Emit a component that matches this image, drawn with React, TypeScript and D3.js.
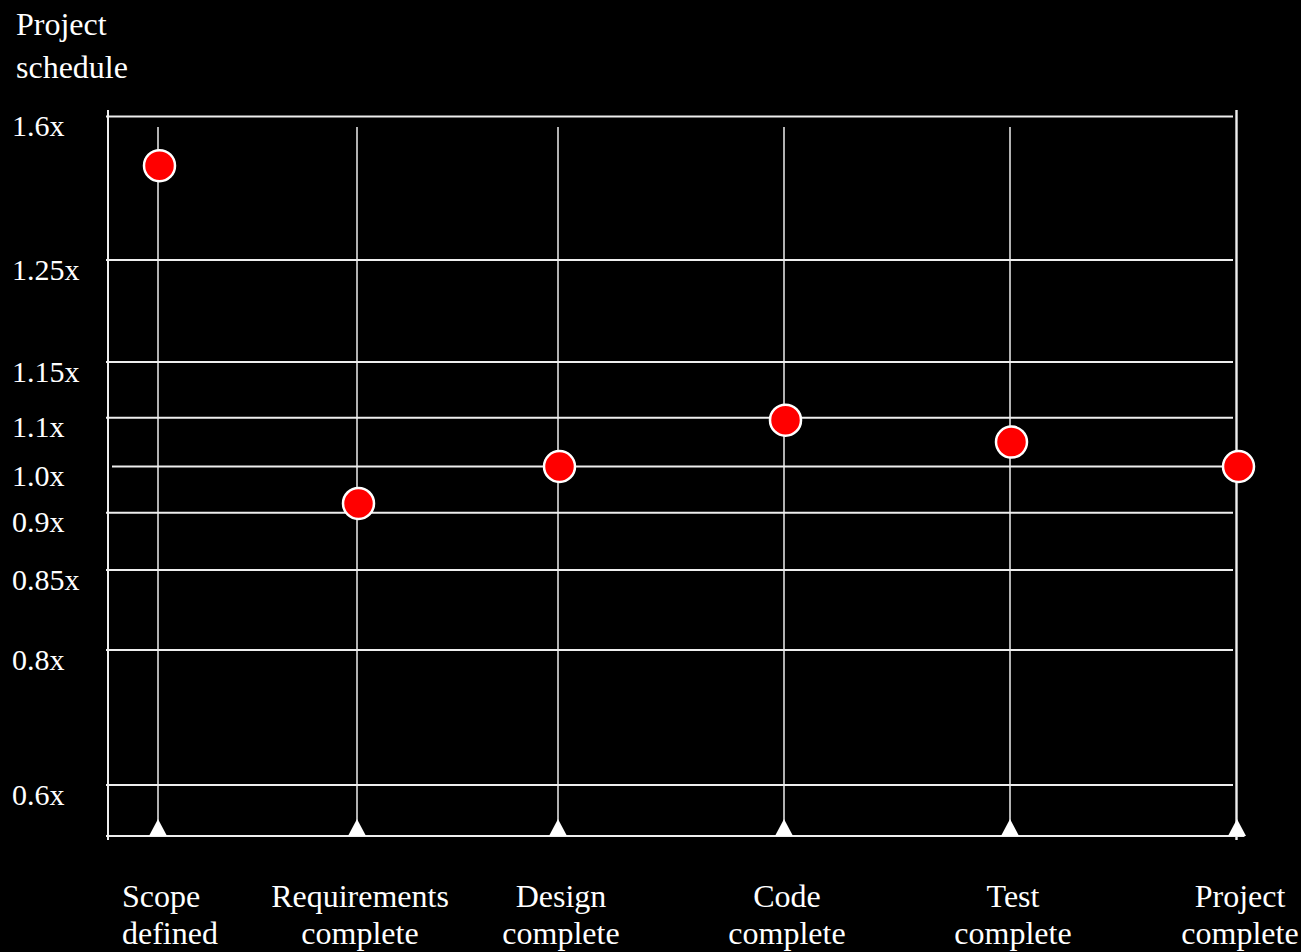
import React from "react";
import * as d3 from "d3";

// Project milestones along the bottom, each split into two label lines
const stages = [
  ["Scope", "defined"],
  ["Requirements", "complete"],
  ["Design", "complete"],
  ["Code", "complete"],
  ["Test", "complete"],
  ["Project", "complete"],
];

// Schedule multiplier estimated at each milestone
const scheduleValues = [1.48, 0.92, 1.0, 1.095, 1.05, 1.0];

// Y-axis reference multipliers and their labels
const tickValues = [1.6, 1.25, 1.15, 1.1, 1.0, 0.9, 0.85, 0.8, 0.6];
const tickLabels = ["1.6x", "1.25x", "1.15x", "1.1x", "1.0x", "0.9x", "0.85x", "0.8x", "0.6x"];

const W = 1301;
const H = 952;
const FONT = "'Liberation Serif', 'Times New Roman', serif";
const LINE = "#eeeeee";

export default function App() {
  // Non-uniform vertical axis: each reference multiplier has its own band
  const y = d3
    .scaleLinear()
    .domain([0.6, 0.8, 0.85, 0.9, 1.0, 1.1, 1.15, 1.25, 1.6])
    .range([785, 650, 570, 512.7, 466.5, 417.7, 362, 260, 116.5]);

  // Milestone spacing along the horizontal axis
  const x = d3
    .scaleLinear()
    .domain([0, 1, 2, 3, 4, 5])
    .range([158, 357, 558, 784, 1010, 1237]);

  const left = 108;
  const right = 1236.5;
  const bottom = 836;
  const axisTop = 110;
  const stageTop = 127;

  // Upward-pointing marker sitting on the baseline
  const triW = 18;
  const triH = 17;
  const tri = d3.line()([
    [-triW / 2, 0],
    [triW / 2, 0],
    [0, -triH],
  ]) + "Z";

  return (
    <svg
      width={W}
      height={H}
      style={{ position: "absolute", left: 0, top: 0, display: "block" }}
      fontFamily={FONT}
    >
      <rect x={0} y={0} width={W} height={H} fill="#000" />

      {/* axis title */}
      <text x={16} y={35} fill="#fff" fontSize={32}>Project</text>
      <text x={16} y={78} fill="#fff" fontSize={32}>schedule</text>

      {/* horizontal reference lines */}
      {tickValues.map((v, i) => (
        <line
          key={"h" + i}
          x1={v === 1.0 ? left + 4 : left - 2}
          x2={v === 1.0 ? right : right - 3.5}
          y1={y(v)}
          y2={y(v)}
          stroke={LINE}
          strokeWidth={2}
        />
      ))}

      {/* y tick labels */}
      {tickLabels.map((t, i) => (
        <text
          key={"t" + i}
          x={12}
          y={y(tickValues[i]) + 9}
          fill="#fff"
          fontSize={30}
          dominantBaseline="central"
        >
          {t}
        </text>
      ))}

      {/* milestone verticals */}
      {stages.map((_, i) =>
        i < stages.length - 1 ? (
          <line
            key={"v" + i}
            x1={x(i)}
            x2={x(i)}
            y1={stageTop}
            y2={bottom}
            stroke={LINE}
            strokeWidth={1.5}
          />
        ) : null
      )}

      {/* frame: left axis, right edge, baseline */}
      <line x1={left} x2={left} y1={axisTop} y2={bottom + 4} stroke={LINE} strokeWidth={2} />
      <line x1={right} x2={right} y1={axisTop} y2={bottom + 4} stroke={LINE} strokeWidth={2.4} />
      <line x1={left - 2} x2={right + 8} y1={bottom} y2={bottom} stroke={LINE} strokeWidth={2.2} />

      {/* milestone markers on the baseline */}
      {stages.map((_, i) => (
        <path
          key={"m" + i}
          d={tri}
          transform={`translate(${x(i)},${bottom})`}
          fill="#fff"
        />
      ))}

      {/* milestone labels */}
      {stages.map((lines, i) => {
        const first = i === 0;
        const lx = first ? x(i) - 36 : x(i) + 3;
        return (
          <text
            key={"l" + i}
            x={lx}
            textAnchor={first ? "start" : "middle"}
            fill="#fff"
            fontSize={32}
          >
            <tspan x={lx} y={907}>{lines[0]}</tspan>
            <tspan x={lx} y={944}>{lines[1]}</tspan>
          </text>
        );
      })}

      {/* schedule estimates */}
      {scheduleValues.map((v, i) => (
        <circle
          key={"c" + i}
          cx={x(i) + 1.5}
          cy={y(v)}
          r={15.5}
          fill="#ff0000"
          stroke="#fff"
          strokeWidth={2.5}
        />
      ))}
    </svg>
  );
}
